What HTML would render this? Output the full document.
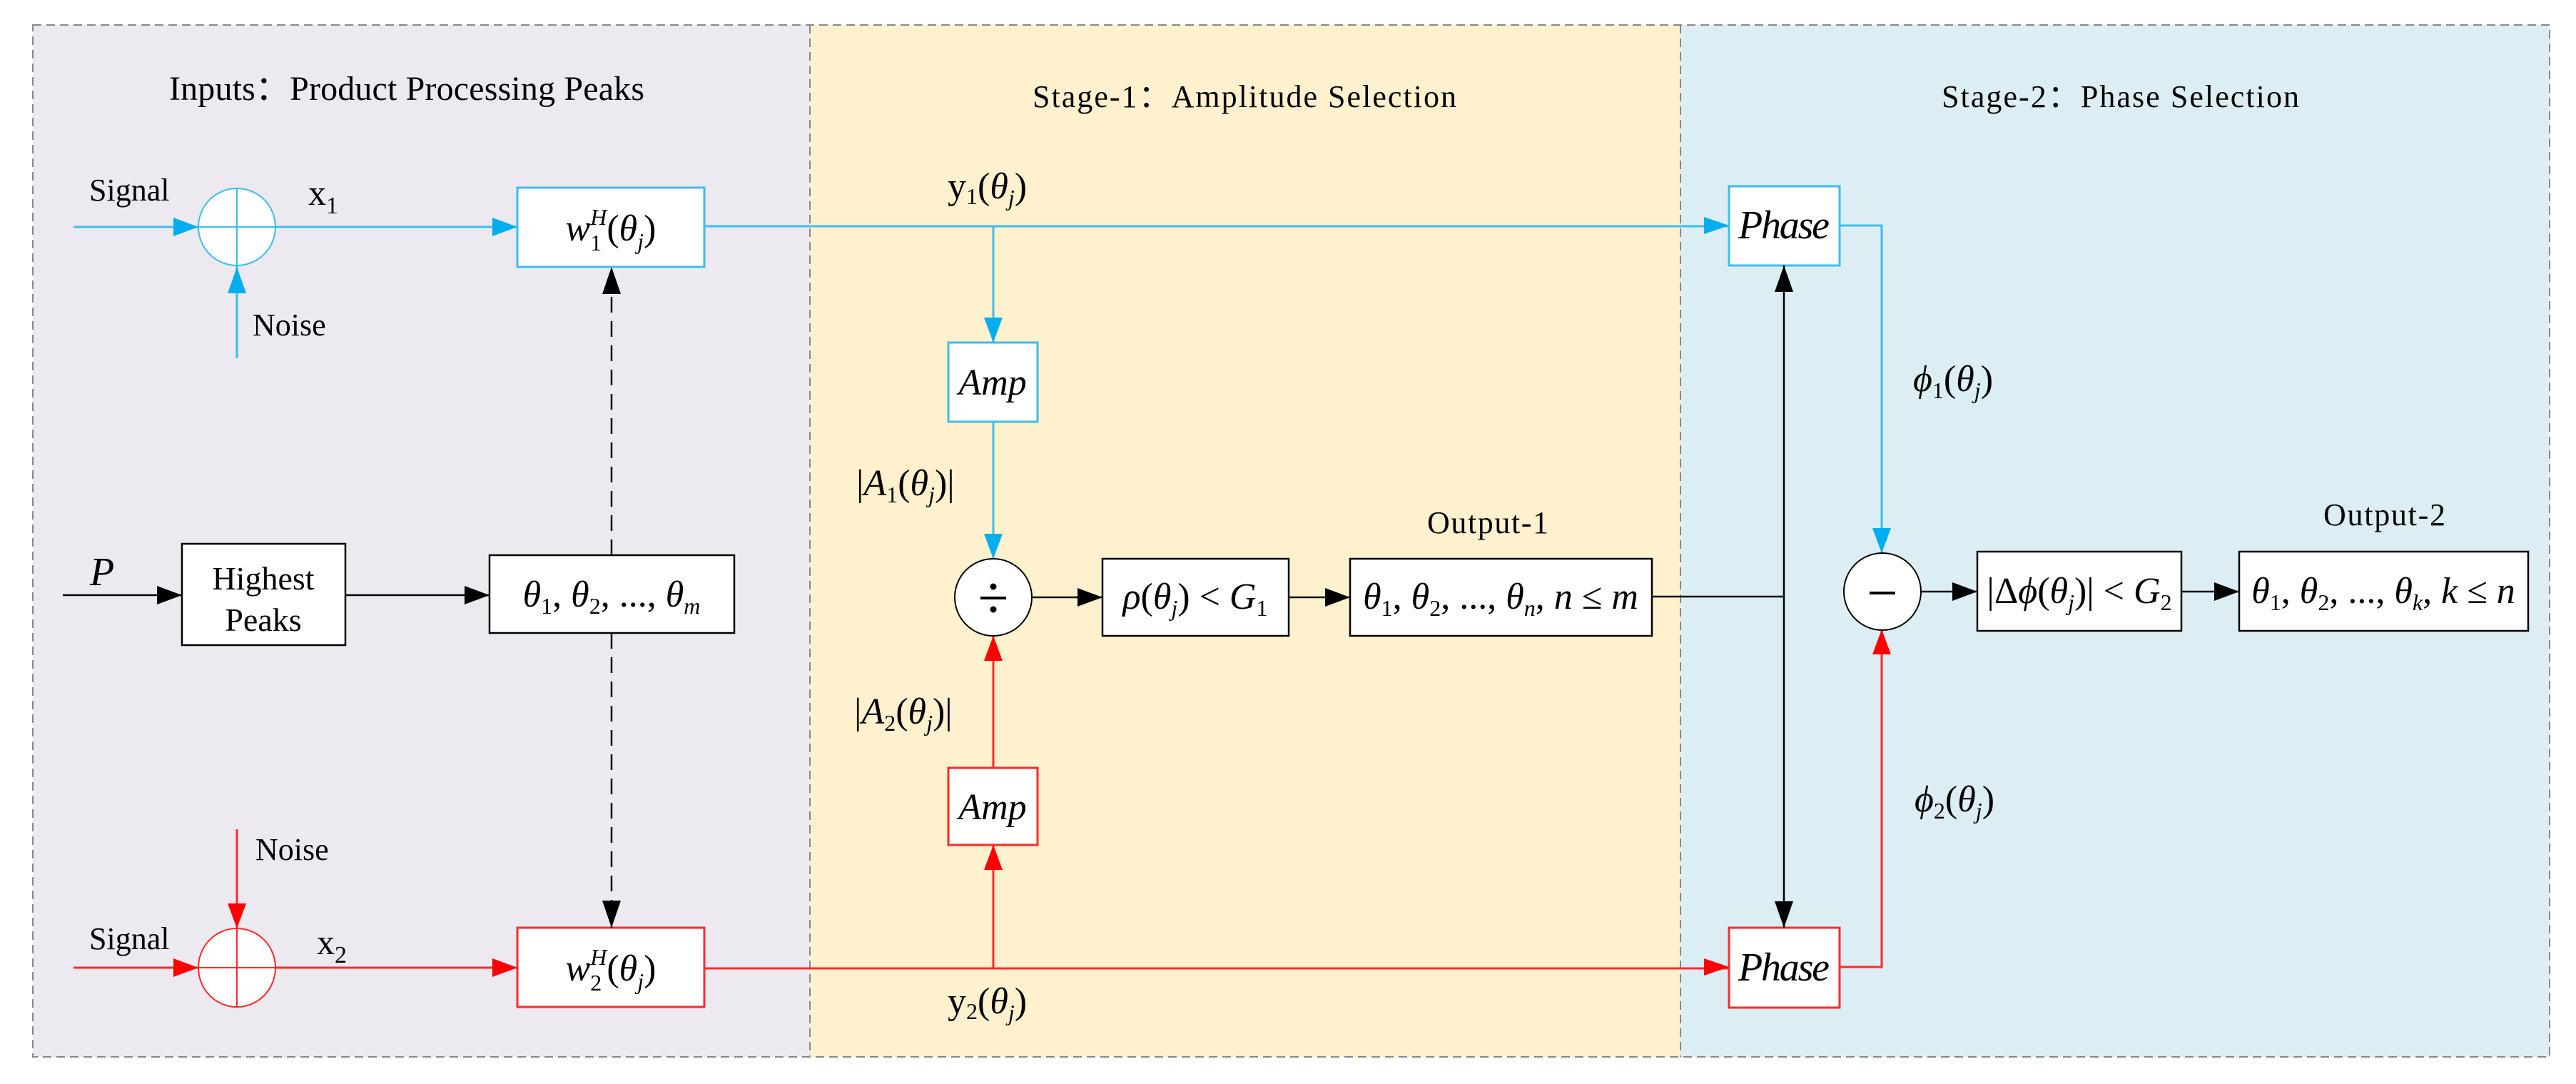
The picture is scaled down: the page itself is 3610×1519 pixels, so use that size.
<!DOCTYPE html>
<html><head><meta charset="utf-8"><style>
html,body{margin:0;padding:0;background:#fff}
svg{display:block}
text{font-family:"Liberation Serif",serif;fill:#000}
.m{font-style:italic}
</style></head><body>
<svg width="3610" height="1519" viewBox="0 0 3610 1519" xmlns="http://www.w3.org/2000/svg">
<rect x="46" y="35" width="1089" height="1446" fill="#ECE9F0"/>
<rect x="1135" y="35" width="1220" height="1446" fill="#FFF1CD"/>
<rect x="2355" y="35" width="1218" height="1446" fill="#DCEDF3"/>
<rect x="46" y="35" width="3527" height="1446" fill="none" stroke="#888" stroke-width="2" stroke-dasharray="12,7"/>
<line x1="1135" y1="35" x2="1135" y2="1481" stroke="#888" stroke-width="2" stroke-dasharray="12,7"/>
<line x1="2355" y1="35" x2="2355" y2="1481" stroke="#888" stroke-width="2" stroke-dasharray="12,7"/>

<text x="237" y="140" font-size="48" textLength="666">Inputs：Product Processing Peaks</text>
<text x="1447" y="150" font-size="44" textLength="594">Stage-1：Amplitude Selection</text>
<text x="2721" y="150" font-size="44" textLength="501">Stage-2：Phase Selection</text>

<g stroke="#3DBDEB" stroke-width="3" fill="none">
<line x1="103" y1="318" x2="278" y2="318"/>
<ellipse cx="332" cy="318" rx="54" ry="54" fill="#fff" stroke-width="2"/>
<line x1="332" y1="264" x2="332" y2="372" stroke-width="2"/>
<line x1="278" y1="318" x2="386" y2="318" stroke-width="2"/>
<line x1="386" y1="318" x2="725" y2="318"/>
<line x1="332" y1="502" x2="332" y2="372"/>
<rect x="725" y="263" width="262" height="111" fill="#fff"/>
<line x1="987" y1="317" x2="2423" y2="317"/>
<line x1="1392" y1="317" x2="1392" y2="480"/>
<rect x="1329" y="480" width="125" height="111" fill="#fff"/>
<line x1="1392" y1="591" x2="1392" y2="783"/>
<rect x="2423" y="261" width="155" height="111" fill="#fff"/>
<polyline points="2578,316 2637,316 2637,775"/>
</g>
<g fill="#00AEEF">
<path d="M243,305 L278,318 L243,331z"/>
<path d="M690,305 L725,318 L690,331z"/>
<path d="M319,411 L332,374 L345,411z"/>
<path d="M1379,445 L1392,480 L1405,445z"/>
<path d="M1379,748 L1392,783 L1405,748z"/>
<path d="M2388,304 L2423,316 L2388,328z"/>
<path d="M2624,740 L2637,775 L2650,740z"/>
</g>

<g stroke="#FF2A2A" stroke-width="3" fill="none">
<line x1="103" y1="1356" x2="278" y2="1356"/>
<ellipse cx="332" cy="1356" rx="54" ry="55" fill="#fff" stroke-width="2"/>
<line x1="332" y1="1301" x2="332" y2="1411" stroke-width="2"/>
<line x1="278" y1="1356" x2="386" y2="1356" stroke-width="2"/>
<line x1="386" y1="1356" x2="725" y2="1356"/>
<line x1="332" y1="1162" x2="332" y2="1301"/>
<rect x="725" y="1300" width="262" height="111" fill="#fff"/>
<line x1="987" y1="1357" x2="2423" y2="1357"/>
<line x1="1392" y1="1357" x2="1392" y2="1184"/>
<rect x="1329" y="1076" width="125" height="108" fill="#fff"/>
<line x1="1392" y1="1076" x2="1392" y2="891"/>
<rect x="2423" y="1300" width="155" height="112" fill="#fff"/>
<polyline points="2578,1355 2637,1355 2637,882"/>
</g>
<g fill="#FF0000">
<path d="M243,1343 L278,1356 L243,1369z"/>
<path d="M690,1343 L725,1356 L690,1369z"/>
<path d="M319,1266 L332,1301 L345,1266z"/>
<path d="M1379,1219 L1392,1184 L1405,1219z"/>
<path d="M1379,926 L1392,891 L1405,926z"/>
<path d="M2388,1343 L2423,1355 L2388,1367z"/>
<path d="M2624,917 L2637,882 L2650,917z"/>
</g>

<g stroke="#000" stroke-width="2.5" fill="none">
<line x1="88" y1="834" x2="255" y2="834"/>
<rect x="255" y="762" width="229" height="142" fill="#fff"/>
<line x1="484" y1="834" x2="686" y2="834"/>
<rect x="686" y="778" width="343" height="109" fill="#fff"/>
<line x1="857" y1="778" x2="857" y2="374" stroke-dasharray="22,12"/>
<line x1="857" y1="887" x2="857" y2="1300" stroke-dasharray="22,12"/>
<ellipse cx="1392" cy="837" rx="54" ry="54" fill="#fff" stroke-width="2"/>
<line x1="1446" y1="837" x2="1545" y2="837"/>
<rect x="1545" y="783" width="261" height="108" fill="#fff"/>
<line x1="1806" y1="837" x2="1892" y2="837"/>
<rect x="1892" y="783" width="423" height="108" fill="#fff"/>
<polyline points="2315,836 2500,836"/>
<line x1="2500" y1="372" x2="2500" y2="1300"/>
<ellipse cx="2638" cy="829" rx="54" ry="54" fill="#fff" stroke-width="2"/>
<line x1="2692" y1="829" x2="2771" y2="829"/>
<rect x="2771" y="773" width="286" height="111" fill="#fff"/>
<line x1="3057" y1="829" x2="3138" y2="829"/>
<rect x="3138" y="773" width="405" height="111" fill="#fff"/>
</g>
<g fill="#000">
<path d="M220,821 L255,834 L220,847z"/>
<path d="M651,821 L686,834 L651,847z"/>
<path d="M844,412 L857,374 L870,412z"/>
<path d="M844,1262 L857,1300 L870,1262z"/>
<path d="M1510,824 L1545,837 L1510,850z"/>
<path d="M1857,824 L1892,837 L1857,850z"/>
<path d="M2487,409 L2500,372 L2513,409z"/>
<path d="M2487,1263 L2500,1300 L2513,1263z"/>
<path d="M2736,816 L2771,829 L2736,842z"/>
<path d="M3103,816 L3138,829 L3103,842z"/>
<rect x="2620" y="829" width="36" height="4"/>
<rect x="1374" y="836" width="36" height="4"/>
<circle cx="1392" cy="822" r="4.5"/>
<circle cx="1392" cy="854" r="4.5"/>
</g>

<g font-size="44">
<text x="125" y="281">Signal</text>
<text x="432" y="287" font-size="50">x<tspan font-size="34" dy="12">1</tspan></text>
<text x="354" y="470">Noise</text>
<text x="358" y="1205">Noise</text>
<text x="125" y="1330">Signal</text>
<text x="444" y="1337" font-size="50">x<tspan font-size="34" dy="12">2</tspan></text>
<text x="126" y="820" font-size="56" class="m">P</text>
<text x="369" y="826" text-anchor="middle" font-size="46">Highest</text>
<text x="369" y="884" text-anchor="middle" font-size="46">Peaks</text>
<text x="2000" y="747" textLength="170">Output-1</text>
<text x="3256" y="736" textLength="171">Output-2</text>
</g>

<g font-size="52">
<text x="856" y="337" text-anchor="middle"><tspan class="m">w</tspan><tspan font-size="32" dy="14">1</tspan><tspan font-size="32" class="m" dx="-16" dy="-36">H</tspan><tspan dy="22">(</tspan><tspan class="m">θ</tspan><tspan font-size="32" class="m" dy="12">j</tspan><tspan dy="-12">)</tspan></text>
<text x="856" y="1374" text-anchor="middle"><tspan class="m">w</tspan><tspan font-size="32" dy="14">2</tspan><tspan font-size="32" class="m" dx="-16" dy="-36">H</tspan><tspan dy="22">(</tspan><tspan class="m">θ</tspan><tspan font-size="32" class="m" dy="12">j</tspan><tspan dy="-12">)</tspan></text>
<text x="857" y="850" text-anchor="middle"><tspan class="m">θ</tspan><tspan font-size="32" dy="10">1</tspan><tspan dy="-10">, </tspan><tspan class="m">θ</tspan><tspan font-size="32" dy="10">2</tspan><tspan dy="-10">, ..., </tspan><tspan class="m">θ</tspan><tspan font-size="32" class="m" dy="10">m</tspan></text>
<text x="1391" y="553" text-anchor="middle" class="m">Amp</text>
<text x="1391" y="1148" text-anchor="middle" class="m">Amp</text>
<text x="2500" y="334" text-anchor="middle" class="m" font-size="56" textLength="128">Phase</text>
<text x="2500" y="1374" text-anchor="middle" class="m" font-size="56" textLength="128">Phase</text>
<text x="1328" y="278">y<tspan font-size="32" dy="8">1</tspan><tspan dy="-8">(</tspan><tspan class="m">θ</tspan><tspan font-size="32" class="m" dy="10">j</tspan><tspan dy="-10">)</tspan></text>
<text x="1328" y="1420">y<tspan font-size="32" dy="8">2</tspan><tspan dy="-8">(</tspan><tspan class="m">θ</tspan><tspan font-size="32" class="m" dy="10">j</tspan><tspan dy="-10">)</tspan></text>
<text x="1200" y="694">|<tspan class="m">A</tspan><tspan font-size="32" dy="10">1</tspan><tspan dy="-10">(</tspan><tspan class="m">θ</tspan><tspan font-size="32" class="m" dy="10">j</tspan><tspan dy="-10">)|</tspan></text>
<text x="1197" y="1014">|<tspan class="m">A</tspan><tspan font-size="32" dy="10">2</tspan><tspan dy="-10">(</tspan><tspan class="m">θ</tspan><tspan font-size="32" class="m" dy="10">j</tspan><tspan dy="-10">)|</tspan></text>
<text x="1675" y="853" text-anchor="middle"><tspan class="m">ρ</tspan>(<tspan class="m">θ</tspan><tspan font-size="32" class="m" dy="10">j</tspan><tspan dy="-10">) &lt; </tspan><tspan class="m">G</tspan><tspan font-size="32" dy="10">1</tspan></text>
<text x="2103" y="853" text-anchor="middle"><tspan class="m">θ</tspan><tspan font-size="32" dy="10">1</tspan><tspan dy="-10">, </tspan><tspan class="m">θ</tspan><tspan font-size="32" dy="10">2</tspan><tspan dy="-10">, ..., </tspan><tspan class="m">θ</tspan><tspan font-size="32" class="m" dy="10">n</tspan><tspan dy="-10">, </tspan><tspan class="m">n</tspan> ≤ <tspan class="m">m</tspan></text>
<text x="2681" y="548"><tspan class="m">ϕ</tspan><tspan font-size="32" dy="10">1</tspan><tspan dy="-10">(</tspan><tspan class="m">θ</tspan><tspan font-size="32" class="m" dy="10">j</tspan><tspan dy="-10">)</tspan></text>
<text x="2683" y="1137"><tspan class="m">ϕ</tspan><tspan font-size="32" dy="10">2</tspan><tspan dy="-10">(</tspan><tspan class="m">θ</tspan><tspan font-size="32" class="m" dy="10">j</tspan><tspan dy="-10">)</tspan></text>
<text x="2914" y="845" text-anchor="middle">|Δ<tspan class="m">ϕ</tspan>(<tspan class="m">θ</tspan><tspan font-size="32" class="m" dy="10">j</tspan><tspan dy="-10">)| &lt; </tspan><tspan class="m">G</tspan><tspan font-size="32" dy="10">2</tspan></text>
<text x="3340" y="845" text-anchor="middle"><tspan class="m">θ</tspan><tspan font-size="32" dy="10">1</tspan><tspan dy="-10">, </tspan><tspan class="m">θ</tspan><tspan font-size="32" dy="10">2</tspan><tspan dy="-10">, ..., </tspan><tspan class="m">θ</tspan><tspan font-size="32" class="m" dy="10">k</tspan><tspan dy="-10">, </tspan><tspan class="m">k</tspan> ≤ <tspan class="m">n</tspan></text>
</g>
</svg>
</body></html>
